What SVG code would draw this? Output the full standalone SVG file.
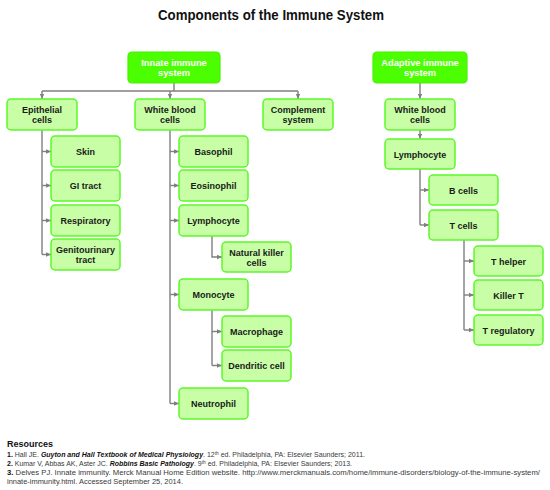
<svg xmlns="http://www.w3.org/2000/svg" width="550" height="490" viewBox="0 0 550 490">
<defs>
<marker id="arr" markerUnits="userSpaceOnUse" markerWidth="6" markerHeight="6" viewBox="0 0 6 6" refX="5" refY="3" orient="auto">
<path d="M0,0.8 L5,3 L0,5.2 Z" fill="#7f7f7f"/>
</marker>
<style>
.top rect{fill:#4cff00;stroke:#47f200;stroke-width:1.2}
.top text{fill:#ffffff;font-family:"Liberation Sans",Arial,sans-serif;font-weight:bold;font-size:9.3px;text-anchor:middle}
.n rect{fill:#c8ffa6;stroke:#5cf72a;stroke-width:1.5}
.n text{fill:#1a1a1a;font-family:"Liberation Sans",Arial,sans-serif;font-weight:bold;font-size:9px;text-anchor:middle}
.c path{fill:none;stroke:#7f7f7f;stroke-width:1.4}
.c path.a{marker-end:url(#arr)}
.ref{font-family:"Liberation Sans",Arial,sans-serif;font-size:6.6px;fill:#3a3a3a}
</style>
</defs>
<rect width="550" height="490" fill="#ffffff"/>
<text x="271" y="20" font-family="'Liberation Sans',Arial,sans-serif" font-weight="bold" font-size="15" text-anchor="middle" fill="#111" textLength="226" lengthAdjust="spacingAndGlyphs">Components of the Immune System</text>

<g id="connectors" class="c">
<path d="M174,83 V91"/>
<path d="M42,91 H298"/>
<path class="a" d="M42,91 V99"/>
<path class="a" d="M170,91 V99"/>
<path class="a" d="M298,91 V99"/>
<path class="a" d="M420,83 V99"/>
<path d="M42,130 V254.5"/>
<path class="a" d="M42,151.5 H51"/>
<path class="a" d="M42,185.5 H51"/>
<path class="a" d="M42,220.5 H51"/>
<path class="a" d="M42,254.5 H51"/>
<path d="M170,130 V403.5"/>
<path class="a" d="M170,151.5 H179"/>
<path class="a" d="M170,185.5 H179"/>
<path class="a" d="M170,220.5 H179"/>
<path class="a" d="M170,294.5 H179"/>
<path class="a" d="M170,403.5 H179"/>
<path class="a" d="M212,236 V257 H222"/>
<path d="M212,310 V365.5"/>
<path class="a" d="M212,331.5 H222"/>
<path class="a" d="M212,365.5 H222"/>
<path class="a" d="M420,130 V139"/>
<path d="M420,169 V225"/>
<path class="a" d="M420,190 H429"/>
<path class="a" d="M420,225 H429"/>
<path d="M464,240 V330"/>
<path class="a" d="M464,261 H474"/>
<path class="a" d="M464,295 H474"/>
<path class="a" d="M464,330 H474"/>
</g>

<g id="innate" class="top"><rect x="128" y="52" width="92" height="31" rx="4"/><text x="174" y="66">Innate immune</text><text x="174" y="76">system</text></g>
<g id="adaptive" class="top"><rect x="373" y="52" width="94" height="31" rx="4"/><text x="420" y="66">Adaptive immune</text><text x="420" y="76">system</text></g>

<g id="epithelial" class="n"><rect x="7" y="99" width="70" height="31" rx="4"/><text x="42" y="113">Epithelial</text><text x="42" y="123">cells</text></g>
<g id="wbc-innate" class="n"><rect x="135" y="99" width="70" height="31" rx="4"/><text x="170" y="113">White blood</text><text x="170" y="123">cells</text></g>
<g id="complement" class="n"><rect x="263" y="99" width="70" height="31" rx="4"/><text x="298" y="113">Complement</text><text x="298" y="123">system</text></g>
<g id="wbc-adaptive" class="n"><rect x="385" y="99" width="70" height="31" rx="4"/><text x="420" y="113">White blood</text><text x="420" y="123">cells</text></g>

<g id="skin" class="n"><rect x="51" y="136" width="69" height="31" rx="4"/><text x="85.5" y="155">Skin</text></g>
<g id="gi" class="n"><rect x="51" y="170" width="69" height="31" rx="4"/><text x="85.5" y="189">GI tract</text></g>
<g id="respiratory" class="n"><rect x="51" y="205" width="69" height="31" rx="4"/><text x="85.5" y="224">Respiratory</text></g>
<g id="genitourinary" class="n"><rect x="51" y="239" width="69" height="31" rx="4"/><text x="85.5" y="253">Genitourinary</text><text x="85.5" y="263">tract</text></g>

<g id="basophil" class="n"><rect x="179" y="136" width="69" height="31" rx="4"/><text x="213.5" y="155">Basophil</text></g>
<g id="eosinophil" class="n"><rect x="179" y="170" width="69" height="31" rx="4"/><text x="213.5" y="189">Eosinophil</text></g>
<g id="lymphocyte-innate" class="n"><rect x="179" y="205" width="69" height="31" rx="4"/><text x="213.5" y="224">Lymphocyte</text></g>
<g id="nk" class="n"><rect x="222" y="242" width="69" height="30" rx="4"/><text x="256.5" y="255.5">Natural killer</text><text x="256.5" y="265.5">cells</text></g>
<g id="monocyte" class="n"><rect x="179" y="279" width="69" height="31" rx="4"/><text x="213.5" y="298">Monocyte</text></g>
<g id="macrophage" class="n"><rect x="222" y="316" width="69" height="31" rx="4"/><text x="256.5" y="335">Macrophage</text></g>
<g id="dendritic" class="n"><rect x="222" y="350" width="69" height="31" rx="4"/><text x="256.5" y="369">Dendritic cell</text></g>
<g id="neutrophil" class="n"><rect x="179" y="388" width="69" height="31" rx="4"/><text x="213.5" y="407">Neutrophil</text></g>

<g id="lymphocyte-adaptive" class="n"><rect x="385" y="139" width="70" height="30" rx="4"/><text x="420" y="157.5">Lymphocyte</text></g>
<g id="bcells" class="n"><rect x="429" y="175" width="69" height="30" rx="4"/><text x="463.5" y="193.5">B cells</text></g>
<g id="tcells" class="n"><rect x="429" y="210" width="69" height="30" rx="4"/><text x="463.5" y="228.5">T cells</text></g>
<g id="thelper" class="n"><rect x="474" y="246" width="69" height="30" rx="4"/><text x="508.5" y="264.5">T helper</text></g>
<g id="killert" class="n"><rect x="474" y="280" width="69" height="30" rx="4"/><text x="508.5" y="298.5">Killer T</text></g>
<g id="tregulatory" class="n"><rect x="474" y="315" width="69" height="30" rx="4"/><text x="508.5" y="333.5">T regulatory</text></g>

<g id="resources">
<text x="7" y="447" font-family="'Liberation Sans',Arial,sans-serif" font-weight="bold" font-size="9" fill="#111">Resources</text>
<text class="ref" x="7" y="457" textLength="358" lengthAdjust="spacingAndGlyphs"><tspan font-weight="bold" fill="#111">1.</tspan> Hall JE. <tspan font-weight="bold" font-style="italic" fill="#111">Guyton and Hall Textbook of Medical Physiology</tspan>. 12<tspan font-size="4.5" dy="-2.5">th</tspan><tspan dy="2.5"> ed. Philadelphia, PA: Elsevier Saunders; 2011.</tspan></text>
<text class="ref" x="7" y="466" textLength="345" lengthAdjust="spacingAndGlyphs"><tspan font-weight="bold" fill="#111">2.</tspan> Kumar V, Abbas AK, Aster JC. <tspan font-weight="bold" font-style="italic" fill="#111">Robbins Basic Pathology</tspan>. 9<tspan font-size="4.5" dy="-2.5">th</tspan><tspan dy="2.5"> ed. Philadelphia, PA: Elsevier Saunders; 2013.</tspan></text>
<text class="ref" x="7" y="475" fill="#3a3a3a" textLength="533" lengthAdjust="spacingAndGlyphs"><tspan font-weight="bold" fill="#111">3.</tspan><tspan fill="#3a3a3a"> Delves PJ. Innate immunity. Merck Manual Home Edition website. http://www.merckmanuals.com/home/immune-disorders/biology-of-the-immune-system/</tspan></text>
<text class="ref" x="7" y="484" fill="#3a3a3a" textLength="176" lengthAdjust="spacingAndGlyphs">innate-immunity.html. Accessed September 25, 2014.</text>
</g>
</svg>
